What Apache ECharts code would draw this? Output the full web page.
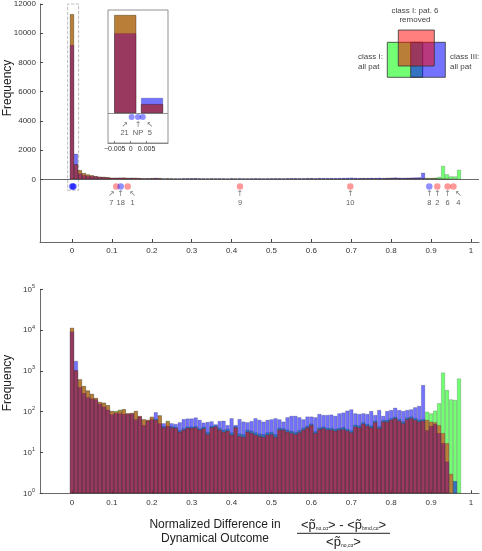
<!DOCTYPE html>
<html><head><meta charset="utf-8">
<script src="https://cdn.jsdelivr.net/npm/echarts@6/dist/echarts.min.js"></script>
<style>html,body{margin:0;padding:0;background:#fff}#c{width:482px;height:551px}</style>
</head><body><div id="c"></div>
<script>
// ---------- data ----------
const binCenters = [0,0.01,0.02,0.03,0.04,0.05,0.06,0.07,0.08,0.09,
  0.10,0.11,0.12,0.13,0.14,0.15,0.16,0.17,0.18,0.19,
  0.20,0.21,0.22,0.23,0.24,0.25,0.26,0.27,0.28,0.29,
  0.30,0.31,0.32,0.33,0.34,0.35,0.36,0.37,0.38,0.39,
  0.40,0.41,0.42,0.43,0.44,0.45,0.46,0.47,0.48,0.49,
  0.50,0.51,0.52,0.53,0.54,0.55,0.56,0.57,0.58,0.59,
  0.60,0.61,0.62,0.63,0.64,0.65,0.66,0.67,0.68,0.69,
  0.70,0.71,0.72,0.73,0.74,0.75,0.76,0.77,0.78,0.79,
  0.80,0.81,0.82,0.83,0.84,0.85,0.86,0.87,0.88,0.89,
  0.90,0.91,0.92,0.93,0.94,0.95,0.96,0.97];
// class I: all patients (green)
const classIAll = [11300,1030,620,425,330,272,217,173,166,144,
  104,104,112,115,91,93,104,78,65,63,
  75,66,81,44,60,44,42,35,39,43,
  43,44,39,43,32,45,46,40,36,38,
  31,44,29,28,36,34,31,29,28,31,
  32,28,40,39,36,34,32,35,40,45,
  51,33,41,43,40,40,38,40,42,38,
  35,48,46,55,50,46,60,44,62,63,
  69,75,66,58,72,76,70,64,66,100,
  91,106,161,910,340,200,194,650];
// class III: all patients (blue)
const classIIIAll = [9200,1750,400,285,225,210,200,155,133,112,
  86,92,91,88,89,90,65,76,47,60,
  65,97,52,52,45,52,50,55,66,68,
  68,72,63,54,56,58,49,59,60,47,
  69,47,66,57,55,59,69,63,57,63,
  65,69,65,57,73,79,79,73,65,76,
  76,73,88,83,83,85,79,91,95,106,
  114,91,88,91,88,104,83,110,79,104,
  110,125,110,104,110,114,128,138,450,35,
  45,50,30,17,6,null,2,null];
// class I: patient 6 removed (red)
const classINo6 = [11300,1030,620,425,330,272,217,173,166,144,
  104,101,108,115,91,93,104,78,65,63,
  75,63,81,41,58,41,40,32,36,40,
  40,41,36,39,28,41,43,36,32,34,
  27,41,25,24,32,30,27,25,24,27,
  28,24,36,36,32,30,28,31,36,41,
  47,30,37,39,36,36,34,36,37,34,
  31,43,41,50,45,41,55,39,57,57,
  63,69,60,52,65,69,63,57,60,63,
  57,55,47,30,17,3,null,null];

const xTickValues = [0,0.1,0.2,0.3,0.4,0.5,0.6,0.7,0.8,0.9,1];
const xTickLabels = ['0','0.1','0.2','0.3','0.4','0.5','0.6','0.7','0.8','0.9','1'];
const linTickValues = [0,2000,4000,6000,8000,10000,12000];
const linTickLabels = ['0','2000','4000','6000','8000','10000','12000'];
const logTickValues = [1,10,100,1000,10000,100000];
const logTickExponents = ['0','1','2','3','4','5'];

// patient markers under the top histogram
const markerX     = [0.111, 0.122, 0.1395, 0.421, 0.6975, 0.8955, 0.9155, 0.9415, 0.956];
const markerLabel = ['7', '18', '1', '9', '10', '8', '2', '6', '4'];
const markerClass = ['I', 'III', 'I', 'I', 'I', 'III', 'I', 'I', 'I'];
const markerArrow = ['↗', '↑', '↖', '↑', '↑', '↑', '↑', '↑', '↖'];
const zeroMarkerX     = [0.0003, 0.0023, 0.0038];
const zeroMarkerLabel = ['21', 'NP', '5'];
const zeroMarkerArrow = ['↗', '↑', '↖'];

// inset (zoom on first two bins)
const insetCenters = [-0.0017, 0.0067];
const insetTickValues = [-0.005, 0, 0.005];
const insetTickLabels = ['−0.005', '0', '0.005'];

const legendTitles = { green: 'class I:\nall pat', blue: 'class III:\nall pat', red: 'class I: pat. 6\nremoved' };

// ---------- styles ----------
const GREEN = 'rgba(0,255,0,0.55)', BLUE = 'rgba(0,0,255,0.55)', RED = 'rgba(255,0,0,0.5)';
const EDGE = 'rgba(0,0,0,0.35)';
const AX = '#444', TXT = '#333';
const FONT = '"Liberation Sans", Arial, sans-serif';
const markerRowY = -500, insetMarkerRowY = -460;

function pairs(xs, ys) { return xs.map((x, i) => [x, ys[i]]); }
function bar(name, color, xi, yi, xs, ys, w, extra) {
  return Object.assign({
    type: 'bar', name, xAxisIndex: xi, yAxisIndex: yi, barWidth: w, barGap: '-100%',
    data: pairs(xs, ys), itemStyle: { color, borderColor: EDGE, borderWidth: 0.5 },
    emphasis: { disabled: true }, animation: false, silent: true
  }, extra || {});
}
function arrowOffset(a, k) { return a === '↗' ? -k : (a === '↖' ? k : 0); }
function markerItems(xs, labels, arrows, y, filter, k) {
  const out = [];
  xs.forEach((x, i) => {
    if (filter && !filter(i)) return;
    out.push({ value: [x, y], name: labels ? labels[i] : '', arrow: arrows ? arrows[i] : '',
      label: { offset: [arrows ? arrowOffset(arrows[i], k) : 0, 0] } });
  });
  return out;
}
const markerLabelCfg = {
  show: true, position: 'bottom', distance: 1, fontFamily: FONT,
  formatter: p => `{a|${p.data.arrow}}\n{b|${p.data.name}}`,
  rich: { a: { fontSize: 8, lineHeight: 7, color: '#555', fontFamily: 'DejaVu Sans' },
          b: { fontSize: 7.5, lineHeight: 10, color: TXT, fontFamily: FONT } }
};

const xMin = -0.0802, xMax = 1.0201;
function xAxisCfg(gi) {
  return { type: 'value', gridIndex: gi, min: xMin, max: xMax, splitLine: { show: false },
    axisLine: { onZero: false, lineStyle: { color: AX, width: 0.8 } },
    axisTick: { inside: true, length: 3, customValues: xTickValues, lineStyle: { color: AX } },
    axisLabel: { customValues: xTickValues, fontSize: 8, color: TXT, fontFamily: FONT, margin: 5,
      formatter: v => xTickLabels[xTickValues.findIndex(t => Math.abs(t - v) < 1e-9)] } };
}

const chart = echarts.init(document.getElementById('c'), null, { renderer: 'canvas' });
chart.setOption({
  animation: false,
  grid: [
    { left: 40, right: 3, top: 4, height: 238 },
    { left: 40, right: 3, top: 289.3, height: 204 },
    { left: 108, top: 10, width: 60, height: 133, show: true, backgroundColor: '#fff', borderColor: '#777', borderWidth: 0.8, z: 5 }
  ],
  xAxis: [
    xAxisCfg(0), xAxisCfg(1),
    { type: 'value', gridIndex: 2, min: -0.0071, max: 0.0117, splitLine: { show: false }, z: 6,
      axisLine: { onZero: false, lineStyle: { color: '#777', width: 0.8 } },
      axisTick: { inside: true, length: 2, customValues: insetTickValues, lineStyle: { color: '#777' } },
      axisLabel: { customValues: insetTickValues, fontSize: 7, color: TXT, fontFamily: FONT, margin: 3,
        formatter: v => insetTickLabels[insetTickValues.findIndex(t => Math.abs(t - v) < 1e-9)] } }
  ],
  yAxis: [
    { type: 'value', gridIndex: 0, min: -4292, max: 12000, splitLine: { show: false },
      axisLine: { show: true, onZero: false, lineStyle: { color: AX, width: 0.8 } },
      axisTick: { inside: true, length: 3, customValues: linTickValues, lineStyle: { color: AX } },
      axisLabel: { customValues: linTickValues, fontSize: 8, color: TXT, fontFamily: FONT, margin: 4,
        formatter: v => linTickLabels[linTickValues.indexOf(v)] } },
    { type: 'log', logBase: 10, gridIndex: 1, min: 1, max: 100000, splitLine: { show: false },
      axisLine: { show: true, onZero: false, lineStyle: { color: AX, width: 0.8 } },
      axisTick: { inside: true, length: 3, lineStyle: { color: AX } },
      axisLabel: { fontSize: 8, color: TXT, fontFamily: FONT, margin: 5,
        formatter: v => { const i = logTickValues.findIndex(t => Math.abs(t - v) / t < 1e-6); return i < 0 ? '' : `{b|10}{s|${logTickExponents[i]}}`; },
        rich: { b: { fontSize: 8, color: TXT, fontFamily: FONT }, s: { fontSize: 5.5, color: TXT, fontFamily: FONT, padding: [0, 0, 6, 0] } } } },
    { type: 'value', gridIndex: 2, min: -3450, max: 11880, show: false }
  ],
  series: [
    // top panel (linear)
    bar('classI', GREEN, 0, 0, binCenters, classIAll, 4, {
      markLine: { silent: true, symbol: 'none', label: { show: false }, lineStyle: { color: AX, width: 0.8, type: 'solid' }, data: [{ yAxis: 0 }] },
      markArea: { silent: true, itemStyle: { color: 'rgba(0,0,0,0)', borderColor: '#aaa', borderWidth: 0.8, borderType: 'dashed' },
        data: [[{ coord: [-0.011, -750] }, { coord: [0.0165, 12000] }]] } }),
    bar('classIII', BLUE, 0, 0, binCenters, classIIIAll, 4),
    bar('classINo6', RED, 0, 0, binCenters, classINo6, 4),
    { type: 'scatter', xAxisIndex: 0, yAxisIndex: 0, symbolSize: 6.5, silent: true,
      itemStyle: { color: 'rgba(255,0,0,0.5)' }, label: markerLabelCfg,
      data: markerItems(markerX, markerLabel, markerArrow, markerRowY, i => markerClass[i] === 'I', 5) },
    { type: 'scatter', xAxisIndex: 0, yAxisIndex: 0, symbolSize: 6.5, silent: true,
      itemStyle: { color: 'rgba(0,0,255,0.55)' }, label: markerLabelCfg,
      data: markerItems(markerX, markerLabel, markerArrow, markerRowY, i => markerClass[i] === 'III', 5) },
    { type: 'scatter', xAxisIndex: 0, yAxisIndex: 0, symbolSize: 6.5, silent: true,
      itemStyle: { color: 'rgba(0,0,255,0.55)' },
      data: markerItems(zeroMarkerX, null, null, markerRowY) },
    // bottom panel (log)
    bar('classI', GREEN, 1, 1, binCenters, classIAll, 4),
    bar('classIII', BLUE, 1, 1, binCenters, classIIIAll, 4),
    bar('classINo6', RED, 1, 1, binCenters, classINo6, 4),
    // inset
    bar('classI', GREEN, 2, 2, insetCenters, classIAll.slice(0, 2), 22, { z: 7,
      markLine: { silent: true, symbol: 'none', label: { show: false }, lineStyle: { color: '#777', width: 0.8, type: 'solid' }, data: [{ yAxis: 0 }] } }),
    bar('classIII', BLUE, 2, 2, insetCenters, classIIIAll.slice(0, 2), 22, { z: 7 }),
    bar('classINo6', RED, 2, 2, insetCenters, classINo6.slice(0, 2), 22, { z: 7 }),
    { type: 'scatter', xAxisIndex: 2, yAxisIndex: 2, symbolSize: 6, silent: true, z: 7,
      itemStyle: { color: 'rgba(0,0,255,0.55)' }, label: markerLabelCfg,
      data: markerItems(zeroMarkerX, zeroMarkerLabel, zeroMarkerArrow, insetMarkerRowY, null, 7) }
  ],
  graphic: [
    { type: 'text', x: 8, y: 88, rotation: Math.PI / 2, style: { text: 'Frequency', font: `12px ${FONT}`, fill: '#222', textAlign: 'center', textVerticalAlign: 'middle' } },
    { type: 'text', x: 8, y: 383, rotation: Math.PI / 2, style: { text: 'Frequency', font: `12px ${FONT}`, fill: '#222', textAlign: 'center', textVerticalAlign: 'middle' } },
    // legend
    { type: 'rect', shape: { x: 387.3, y: 42.3, width: 35.4, height: 35 }, style: { fill: GREEN, stroke: '#333', lineWidth: 0.8 } },
    { type: 'rect', shape: { x: 410.7, y: 42.3, width: 34.6, height: 35 }, style: { fill: BLUE, stroke: '#333', lineWidth: 0.8 } },
    { type: 'rect', shape: { x: 398.3, y: 30, width: 36, height: 36 }, style: { fill: RED, stroke: '#333', lineWidth: 0.8 } },
    { type: 'text', x: 415, y: 6, style: { text: legendTitles.red, font: `8px ${FONT}`, fill: '#444', textAlign: 'center', lineHeight: 9.5 } },
    { type: 'text', x: 358, y: 52.5, style: { text: legendTitles.green, font: `8px ${FONT}`, fill: '#444', textAlign: 'left', lineHeight: 9.5 } },
    { type: 'text', x: 450, y: 52.5, style: { text: legendTitles.blue, font: `8px ${FONT}`, fill: '#444', textAlign: 'left', lineHeight: 9.5 } },
    // x axis title
    { type: 'text', x: 215, y: 518, style: { text: 'Normalized Difference in\nDynamical Outcome', font: `12px ${FONT}`, fill: '#222', textAlign: 'center', lineHeight: 13.5 } },
    { type: 'text', x: 343.5, y: 525, style: { rich: {
        t: { fontSize: 13, fontFamily: FONT, fill: '#222' },
        p: { fontSize: 13, fontFamily: FONT, fill: '#222' },
        s: { fontSize: 5, fontFamily: FONT, fill: '#222', padding: [7, 0, 0, 0] } },
      text: '{t|<}{p|p̃}{s|no,cα}{t|> - <}{p|p̃}{s|bmd,cα}{t|>}', textAlign: 'center', textVerticalAlign: 'middle' } },
    { type: 'line', shape: { x1: 297, y1: 533.3, x2: 390, y2: 533.3 }, style: { stroke: '#222', lineWidth: 1 } },
    { type: 'text', x: 343.5, y: 542, style: { rich: {
        t: { fontSize: 13, fontFamily: FONT, fill: '#222' },
        p: { fontSize: 13, fontFamily: FONT, fill: '#222' },
        s: { fontSize: 5, fontFamily: FONT, fill: '#222', padding: [7, 0, 0, 0] } },
      text: '{t|<}{p|p̃}{s|no,cα}{t|>}', textAlign: 'center', textVerticalAlign: 'middle' } }
  ]
});
</script></body></html>
